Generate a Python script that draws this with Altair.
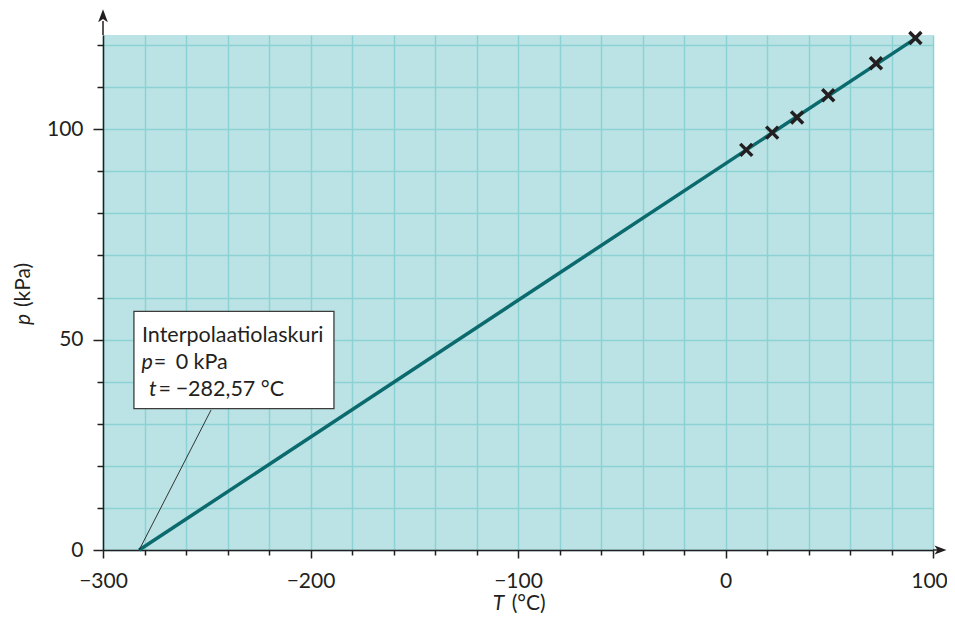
import altair as alt
import pandas as pd

# ---- data ----
T_meas = [10.0, 22.5, 34.5, 49.5, 72.5, 91.5]
p_meas = [95.1, 99.2, 102.8, 108.1, 115.7, 121.7]
fit_T = [-282.57, 92.5]
fit_p = [0.0, 121.9]
x_ticks = list(range(-300, 101, 20))
y_ticks = list(range(0, 121, 10))
x_domain = [-300, 100]
y_domain = [0, 122.4]

# annotation ("Interpolaatiolaskuri") in data units
box_T = [-285.1, -188.7]
box_p = [33.6, 56.7]
leader_T = [-247.9, -282.57]
leader_p = [33.3, 0.0]
ann_text = ["Interpolaatiolaskuri", "p", "=", "0 kPa", "t", "=", "\u2212282,57 \u00b0C"]
ann_T = [-281.2, -281.4, -275.6, -265.0, -277.8, -273.2, -265.0]
ann_p = [49.5, 42.9, 42.9, 42.9, 36.5, 36.5, 36.5]
ann_italic = [False, True, False, False, True, False, False]

BG = "#BBE3E5"
GRID = "#8CD2D4"
LINE = "#0B6A6D"
DARK = "#231F20"
FONT = "Lato"

meas = pd.DataFrame({"T": T_meas, "p": p_meas})
fit = pd.DataFrame({"T": fit_T, "p": fit_p})
leader = pd.DataFrame({"T": leader_T, "p": leader_p})
box = pd.DataFrame({"T": [box_T[0]], "T2": [box_T[1]], "p": [box_p[0]], "p2": [box_p[1]]})
ann = pd.DataFrame({"text": ann_text, "T": ann_T, "p": ann_p, "italic": ann_italic})

x_axis = alt.Axis(
    values=x_ticks, title=None, grid=True, gridColor=GRID, gridWidth=1.5,
    domainColor=DARK, domainWidth=1.5, tickColor=DARK, tickWidth=1.5,
    tickSize={"condition": {"test": "datum.value % 100 === 0", "value": 8}, "value": 5},
    labelExpr="datum.value % 100 === 0 ? datum.label : ''",
    labelOffset={"condition": {"test": "datum.value === 100", "value": -4}, "value": 0},
    labelFont=FONT, labelFontSize=21, labelColor=DARK, labelPadding=12,
    labelFlush=False, labelOverlap=False,
)
y_axis = alt.Axis(
    values=y_ticks, title=None, grid=True, gridColor=GRID, gridWidth=1.5,
    domainColor=DARK, domainWidth=1.5, tickColor=DARK, tickWidth=1.5,
    tickSize={"condition": {"test": "datum.value % 50 === 0", "value": 10}, "value": 6},
    labelExpr="datum.value % 50 === 0 ? datum.label : ''",
    labelFont=FONT, labelFontSize=21, labelColor=DARK, labelPadding=10,
    labelFlush=False, labelOverlap=False,
)
X = alt.X("T:Q", scale=alt.Scale(domain=x_domain, nice=False, zero=False), axis=x_axis)
Y = alt.Y("p:Q", scale=alt.Scale(domain=y_domain, nice=False, zero=False), axis=y_axis)

fit_line = alt.Chart(fit).mark_line(color=LINE, strokeWidth=3.5).encode(x=X, y=Y)

leader_line = alt.Chart(leader).mark_line(color=DARK, strokeWidth=0.9).encode(x="T:Q", y="p:Q")

box_rect = alt.Chart(box).mark_rect(fill="white", stroke="#3C3C3C", strokeWidth=1.3).encode(
    x="T:Q", x2="T2:Q", y="p:Q", y2="p2:Q")

ann_norm = alt.Chart(ann[~ann["italic"]]).mark_text(
    align="left", baseline="alphabetic", font=FONT, fontSize=21.5, color=DARK
).encode(x="T:Q", y="p:Q", text="text:N")
ann_ital = alt.Chart(ann[ann["italic"]]).mark_text(
    align="left", baseline="alphabetic", font=FONT, fontSize=21.5, fontStyle="italic", color=DARK
).encode(x="T:Q", y="p:Q", text="text:N")

points = alt.Chart(meas).mark_point(
    shape="M-1,-1L1,1M-1,1L1,-1", filled=False, strokeWidth=3.5, size=144, color=DARK, opacity=1
).encode(x="T:Q", y="p:Q")

one = alt.Data(values=[{}])
y_shaft = alt.Chart(one).mark_rule(color=DARK, strokeWidth=1.5).encode(
    x=alt.value(0), y=alt.value(0), y2=alt.value(-14))
y_head = alt.Chart(one).mark_point(
    shape="M0,-1L0.75,1L0,0.5L-0.75,1Z", filled=True, size=169, color=DARK, opacity=1, strokeWidth=0
).encode(x=alt.value(0), y=alt.value(-19.2))
x_shaft = alt.Chart(one).mark_rule(color=DARK, strokeWidth=1.5).encode(
    x=alt.value(830), x2=alt.value(838), y=alt.value(515))
x_head = alt.Chart(one).mark_point(
    shape="M1,0L-1,0.75L-0.5,0L-1,-0.75Z", filled=True, size=144, color=DARK, opacity=1, strokeWidth=0
).encode(x=alt.value(837.5), y=alt.value(515))

x_title_i = alt.Chart(one).mark_text(
    text="T", align="left", baseline="alphabetic", font=FONT, fontSize=21, fontStyle="italic", color=DARK
).encode(x=alt.value(389.7), y=alt.value(575))
x_title_n = alt.Chart(one).mark_text(
    text="(\u00b0C)", align="left", baseline="alphabetic", font=FONT, fontSize=21, color=DARK
).encode(x=alt.value(408.7), y=alt.value(575))
y_title_i = alt.Chart(one).mark_text(
    text="p", align="left", baseline="alphabetic", angle=270, font=FONT, fontSize=21, fontStyle="italic", color=DARK
).encode(x=alt.value(-73), y=alt.value(290))
y_title_n = alt.Chart(one).mark_text(
    text="(kPa)", align="left", baseline="alphabetic", angle=270, font=FONT, fontSize=21, color=DARK
).encode(x=alt.value(-73), y=alt.value(272))

chart = alt.layer(
    fit_line, leader_line, box_rect, ann_norm, ann_ital, points,
    y_shaft, y_head, x_shaft, x_head, x_title_i, x_title_n, y_title_i, y_title_n,
).properties(
    width=830, height=515,
    padding={"left": 95, "top": 27, "right": 14, "bottom": 63},
    autosize=alt.AutoSizeParams(type="none"),
    background="white",
).configure_view(fill=BG, stroke=None)

chart.save("out.html", embed_options={"renderer": "svg", "actions": False})
